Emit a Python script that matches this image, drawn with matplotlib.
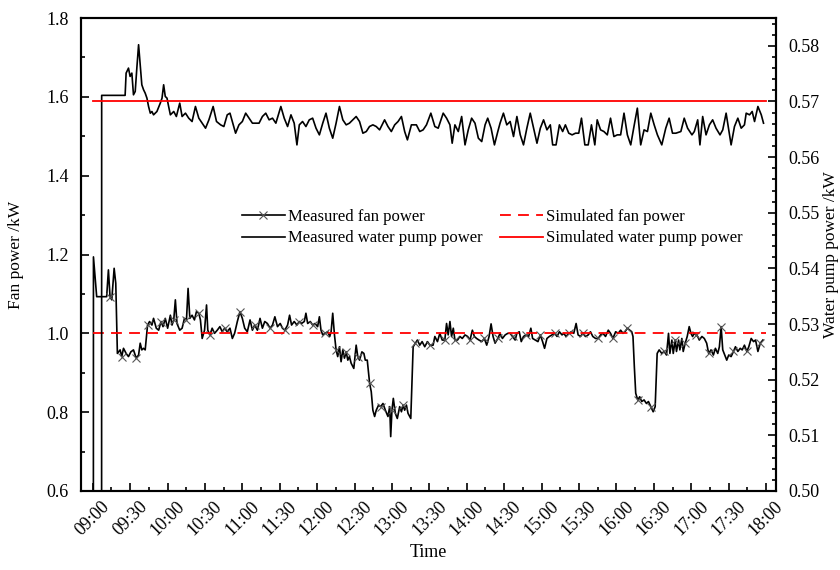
import numpy as np
import matplotlib
matplotlib.use("Agg")
import matplotlib.pyplot as plt
from matplotlib.ticker import MultipleLocator

plt.rcParams["font.family"] = ["Liberation Serif", "DejaVu Serif"]
plt.rcParams["font.size"] = 12

# Axe des temps : minutes depuis 09:00
time_labels = ["09:00", "09:30", "10:00", "10:30", "11:00", "11:30", "12:00",
               "12:30", "13:00", "13:30", "14:00", "14:30", "15:00", "15:30",
               "16:00", "16:30", "17:00", "17:30", "18:00"]

# Puissance mesurée du ventilateur (kW)
fan_t = [
    0.5, 0.6, 3.2, 8.6, 11.2, 12.6, 13.9, 15.3, 17.2, 18.5,
    19.8, 22.0, 23.3, 24.7, 26.8, 28.7, 30.6, 32.7, 34.9, 36.8,
    38.1, 39.4, 40.8, 42.1, 44.0, 45.6, 47.5, 48.8, 51.0, 52.9,
    54.8, 56.4, 58.2, 60.1, 62.3, 63.6, 65.0, 66.3, 67.6, 69.8,
    71.7, 73.6, 75.2, 76.5, 77.9, 79.7, 81.6, 83.2, 85.1, 86.4,
    87.8, 89.7, 91.3, 92.3, 94.0, 95.8, 97.7, 99.9, 102.0, 103.9,
    105.8, 107.9, 110.1, 112.0, 113.8, 116.0, 118.1, 120.0, 121.9, 124.0,
    126.2, 128.1, 129.9, 132.1, 134.2, 136.1, 138.0, 140.1, 142.3, 144.2,
    146.1, 148.2, 150.4, 152.2, 154.1, 156.3, 157.9, 159.5, 161.6, 163.8,
    165.7, 167.5, 169.7, 171.0, 172.4, 174.5, 176.4, 178.3, 180.4, 181.8,
    183.1, 184.5, 186.3, 188.5, 190.1, 191.2, 192.5, 193.9, 195.2, 196.5,
    197.9, 199.2, 200.6, 201.9, 203.3, 204.6, 205.9, 207.3, 209.4, 211.3,
    212.6, 214.0, 215.9, 217.5, 218.6, 220.2, 222.1, 223.4, 224.7, 226.1,
    227.4, 229.3, 230.9, 232.8, 234.7, 236.8, 238.2, 239.0, 240.0, 241.1,
    242.7, 244.3, 246.2, 247.6, 248.9, 250.2, 251.6, 252.9, 255.1, 257.0,
    258.8, 260.4, 262.3, 264.2, 266.3, 268.5, 270.4,
    273.0, 274.4, 276.5, 278.4, 280.3, 282.4, 283.8, 285.1, 286.5, 287.8,
    289.2, 290.5, 292.6, 294.5, 296.4, 298.6, 300.7, 302.6, 304.5, 306.1,
    307.9, 309.8, 312.0, 314.1, 316.0, 317.9, 319.5, 321.1, 322.7, 324.9,
    326.7, 328.6, 330.8, 332.9, 334.8, 336.7, 338.8, 340.2, 342.1, 343.7,
    345.5, 347.4, 349.6, 351.4, 352.8, 354.9, 357.1, 359.0, 360.8, 362.4,
    364.3, 366.2, 368.4, 370.5, 372.4, 374.3, 376.4, 377.8, 379.6, 381.8,
    383.9, 385.8, 387.7, 389.3, 391.2, 393.1, 395.2, 397.4, 399.2, 401.1,
    403.3, 405.4, 407.3, 409.2, 411.3, 413.5, 415.3, 417.2, 419.4, 421.5,
    423.4, 425.3, 426.9, 428.8, 430.7, 432.3, 433.3, 434.4, 435.5, 437.1,
    438.7, 440.3, 442.2, 444.1, 445.7, 447.6, 449.5, 451.1, 452.7, 454.3,
    456.4, 458.3, 460.2, 461.8, 462.9, 464.5, 465.6, 467.2, 468.2, 469.9,
    470.9, 472.5, 473.6, 475.2, 476.8, 478.4, 479.8, 481.1, 482.5, 483.8,
    485.2, 486.5, 488.6, 490.5, 492.4, 494.0, 495.9, 497.8, 499.4, 501.3,
    502.6, 504.0, 505.3, 506.9, 508.5, 510.1, 512.0, 513.9, 515.5, 517.4,
    519.3, 520.9, 522.7, 524.6, 526.2, 528.1, 530.0, 531.6, 533.5, 535.4,
    537.5,
]
fan_kw = [
    0.0, 1.194, 1.093, 1.093, 1.093, 1.161, 1.093, 1.085, 1.165, 1.127,
    0.949, 0.958, 0.941, 0.962, 0.949, 0.941, 0.953, 0.958, 0.937, 0.945,
    0.975, 0.958, 0.962, 0.958, 1.021, 1.030, 1.021, 1.038, 1.013, 1.008,
    1.030, 1.017, 1.038, 1.013, 1.046, 1.021, 1.034, 1.085, 1.025, 1.008,
    1.013, 1.038, 1.034, 1.114, 1.038, 1.046, 1.034, 1.055, 1.051, 1.034,
    0.987, 1.008, 1.072, 1.008, 0.996, 1.013, 1.000, 1.008, 1.017, 1.004,
    1.013, 1.004, 1.013, 0.987, 1.000, 1.030, 1.055, 1.038, 1.013, 1.004,
    1.034, 1.008, 1.021, 1.008, 1.038, 1.013, 1.030, 1.025, 1.013, 1.021,
    1.042, 1.017, 1.025, 1.013, 1.008, 1.021, 1.046, 1.021, 1.030, 1.021,
    1.030, 1.025, 1.030, 1.051, 1.025, 1.030, 1.021, 1.025, 1.017, 1.042,
    1.008, 0.996, 1.000, 1.004, 0.992, 1.004, 1.051, 0.996, 0.958, 0.941,
    0.966, 0.928, 0.958, 0.937, 0.953, 0.932, 0.941, 0.924, 0.911, 0.970,
    0.941, 0.932, 0.953, 0.949, 0.932, 0.932, 0.873, 0.852, 0.805, 0.789,
    0.805, 0.818, 0.814, 0.822, 0.805, 0.789, 0.814, 0.738, 0.805, 0.835,
    0.797, 0.784, 0.814, 0.801, 0.818, 0.805, 0.818, 0.797, 0.784, 0.966,
    0.975, 0.983, 0.970, 0.979, 0.966, 0.979, 0.970,
    0.970, 0.992, 0.979, 1.000, 0.983, 0.983, 1.025, 0.996, 1.030, 0.992,
    1.013, 0.983, 0.983, 0.992, 0.987, 0.996, 0.992, 0.983, 1.008, 0.992,
    0.987, 0.983, 0.979, 0.987, 0.970, 0.992, 1.024, 0.992, 0.975, 0.987,
    1.000, 0.987, 0.996, 1.000, 1.000, 0.992, 0.983, 1.000, 1.004, 0.979,
    0.992, 0.996, 0.992, 1.013, 0.987, 0.983, 0.979, 0.996, 0.979, 0.962,
    0.987, 0.992, 0.996, 1.000, 0.992, 1.004, 0.996, 1.000, 0.992, 1.000,
    1.004, 1.000, 1.025, 0.996, 0.992, 1.000, 0.992, 0.996, 1.004, 0.992,
    0.987, 0.987, 0.996, 1.000, 0.992, 1.008, 1.000, 0.987, 1.004, 1.000,
    1.008, 1.000, 1.004, 1.013, 1.008, 1.004, 0.992, 0.915, 0.848, 0.831,
    0.839, 0.827, 0.831, 0.822, 0.827, 0.814, 0.801, 0.814, 0.949, 0.958,
    0.949, 0.954, 0.945, 1.000, 0.949, 0.983, 0.949, 0.983, 0.954, 0.983,
    0.958, 0.987, 0.954, 0.975, 0.992, 1.017, 1.000, 0.992, 1.000, 0.996,
    0.992, 0.983, 0.992, 0.987, 0.975, 0.949, 0.958, 0.945, 0.962, 0.949,
    0.966, 1.017, 0.958, 0.945, 0.932, 0.945, 0.941, 0.954, 0.966, 0.954,
    0.962, 0.958, 0.970, 0.954, 0.966, 0.987, 0.979, 0.983, 0.954, 0.975,
    0.983,
]

# Puissance mesurée de la pompe à eau (kW)
pump_t = [
    6.8, 7.2, 26.0, 26.8, 28.7, 30.0, 31.4, 32.7, 34.1, 35.4,
    36.8, 38.1, 39.4, 40.8, 42.1, 43.5, 44.8, 46.2, 47.5, 48.8,
    51.5, 54.2, 55.6, 56.9, 58.2, 59.6, 60.9, 62.3, 65.0, 67.1,
    69.8, 71.7, 74.4, 77.0, 79.7, 82.4, 85.1, 87.8, 90.5, 93.2,
    96.6, 99.3, 102.6, 105.2, 107.9, 110.1, 112.0, 114.6, 117.3, 120.0,
    122.7, 125.4, 128.1, 130.7, 133.4, 136.1, 138.8, 141.5, 144.2, 146.9,
    150.9, 153.6, 156.3, 159.0, 161.6, 163.8, 165.7, 168.3, 171.0, 173.7,
    176.4, 179.1, 181.8, 184.5, 187.1, 189.8, 192.5, 195.2, 197.9, 200.6,
    203.3, 205.9, 208.6, 211.3, 214.0, 216.7, 219.4, 222.0, 224.7, 227.4,
    230.1, 234.1, 236.8, 239.5, 242.2, 244.9, 247.6, 250.2, 252.4, 255.6,
    259.6, 262.3, 265.0, 267.7, 271.2, 274.4,
    277.1, 281.1, 283.8, 286.5, 288.3, 290.5, 293.2, 295.9, 298.6, 301.2,
    303.9, 306.6, 309.3, 312.0, 314.7, 316.8, 319.5, 322.2, 324.9, 326.7,
    329.4, 332.1, 334.8, 337.5, 340.2, 342.9, 345.5, 348.2, 350.9, 353.6,
    356.3, 359.0, 361.6, 364.3, 367.0, 368.9, 371.6, 374.3, 376.9, 379.1,
    381.8, 384.5, 387.2, 389.8, 392.0, 394.7, 397.4, 400.0, 402.7, 404.6,
    407.3, 410.0, 412.7, 415.3, 418.0, 420.7, 423.4, 426.1, 428.8, 431.5,
    434.1, 436.8, 439.5, 442.2, 444.9, 447.6, 450.3, 452.9, 456.4, 459.6,
    462.3, 465.0, 467.7, 471.7, 474.4, 477.1, 480.6, 482.5, 485.2, 487.0,
    489.2, 491.9, 494.6, 497.2, 499.9, 503.1, 505.3, 508.0, 510.7, 512.0,
    514.7, 517.4, 520.1, 522.7, 524.1, 526.8, 528.9, 530.8, 533.5, 536.2,
    538.0,
]
pump_kw = [
    0.0, 0.5711, 0.5711, 0.5751, 0.5760, 0.5745, 0.5751, 0.5712, 0.5718, 0.5760,
    0.5802, 0.5766, 0.5730, 0.5721, 0.5715, 0.5706, 0.5691, 0.5679, 0.5682, 0.5676,
    0.5682, 0.5697, 0.5706, 0.5730, 0.5709, 0.5706, 0.5691, 0.5676, 0.5682, 0.5673,
    0.5697, 0.5673, 0.5679, 0.5670, 0.5664, 0.5691, 0.5670, 0.5661, 0.5652, 0.5667,
    0.5691, 0.5664, 0.5658, 0.5655, 0.5676, 0.5679, 0.5664, 0.5643, 0.5658, 0.5664,
    0.5679, 0.5670, 0.5661, 0.5661, 0.5661, 0.5673, 0.5679, 0.5667, 0.5670, 0.5661,
    0.5691, 0.5670, 0.5655, 0.5676, 0.5661, 0.5622, 0.5658, 0.5664, 0.5655, 0.5667,
    0.5670, 0.5652, 0.5640, 0.5661, 0.5679, 0.5652, 0.5634, 0.5661, 0.5691, 0.5667,
    0.5658, 0.5661, 0.5667, 0.5673, 0.5664, 0.5643, 0.5646, 0.5655, 0.5658, 0.5655,
    0.5649, 0.5667, 0.5655, 0.5646, 0.5658, 0.5664, 0.5673, 0.5646, 0.5631, 0.5658,
    0.5658, 0.5646, 0.5649, 0.5658, 0.5679, 0.5655,
    0.5652, 0.5679, 0.5670, 0.5658, 0.5625, 0.5658, 0.5646, 0.5673, 0.5622, 0.5649,
    0.5670, 0.5661, 0.5634, 0.5628, 0.5658, 0.5670, 0.5652, 0.5622, 0.5646, 0.5661,
    0.5679, 0.5658, 0.5664, 0.5637, 0.5673, 0.5640, 0.5622, 0.5652, 0.5679, 0.5652,
    0.5625, 0.5652, 0.5667, 0.5649, 0.5658, 0.5622, 0.5622, 0.5658, 0.5646, 0.5658,
    0.5643, 0.5640, 0.5643, 0.5643, 0.5670, 0.5622, 0.5622, 0.5658, 0.5622, 0.5667,
    0.5649, 0.5646, 0.5640, 0.5670, 0.5637, 0.5640, 0.5640, 0.5679, 0.5640, 0.5622,
    0.5655, 0.5688, 0.5622, 0.5649, 0.5646, 0.5679, 0.5658, 0.5640, 0.5622, 0.5652,
    0.5670, 0.5643, 0.5643, 0.5646, 0.5670, 0.5652, 0.5640, 0.5646, 0.5667, 0.5622,
    0.5673, 0.5640, 0.5658, 0.5667, 0.5652, 0.5640, 0.5649, 0.5679, 0.5640, 0.5622,
    0.5655, 0.5670, 0.5652, 0.5658, 0.5679, 0.5676, 0.5682, 0.5664, 0.5691, 0.5676,
    0.5661,
]

# Valeurs simulées (constantes)
sim_t = [0.5, 540.0]
sim_fan = [1.0, 1.0]
sim_pump = [0.57, 0.57]

fig = plt.figure(figsize=(8.4, 5.7), dpi=100)
ax = fig.add_axes([0.0964, 0.1386, 0.8274, 0.8298])
ax2 = ax.twinx()

h1, = ax.plot(fan_t, fan_kw, color="black", lw=1.2, marker="x", ms=6,
              mec="#555555", mew=0.8, markevery=6, label="Measured fan power")
h2, = ax.plot(sim_t, sim_fan, color="red", lw=1.3, ls="--", dashes=(6, 4),
              label="Simulated fan power")
h3, = ax2.plot(pump_t, pump_kw, color="black", lw=1.2,
               label="Measured water pump power")
h4, = ax2.plot(sim_t, sim_pump, color="red", lw=1.3,
               label="Simulated water pump power")

ax.set_xlim(-9.4, 548)
ax.set_ylim(0.6, 1.8)
ax2.set_ylim(0.5, 0.585)

ax.set_xticks(np.arange(0, 541, 30))
ax.set_xticklabels(time_labels, rotation=45)
ax.xaxis.set_minor_locator(MultipleLocator(15))
ax.set_yticks(np.arange(0.6, 1.81, 0.2))
ax.set_yticklabels(["%.1f" % v for v in np.arange(0.6, 1.81, 0.2)])
ax.yaxis.set_minor_locator(MultipleLocator(0.1))
ax2.set_yticks(np.arange(0.50, 0.581, 0.01))
ax2.set_yticklabels(["%.2f" % v for v in np.arange(0.50, 0.581, 0.01)])
ax2.yaxis.set_minor_locator(MultipleLocator(0.002))

ax.tick_params(which="both", direction="in", top=False, right=False, width=1.2,
               labelsize=13)
ax.tick_params(axis="y", pad=9)
ax.tick_params(axis="x", pad=5)
ax.tick_params(which="major", length=6)
ax.tick_params(which="minor", length=3)
ax2.tick_params(which="both", direction="in", width=1.2, labelsize=13, pad=9)
ax2.tick_params(which="major", length=6)
ax2.tick_params(which="minor", length=3)
for a in (ax, ax2):
    for s in a.spines.values():
        s.set_linewidth(1.5)

ax.set_xlabel("Time", fontsize=13)
ax.set_ylabel("Fan power /kW", fontsize=12.5)
ax2.set_ylabel("Water pump power /kW", fontsize=12.5)
ax.xaxis.set_label_coords(0.5, -0.112)
ax.yaxis.set_label_coords(-0.0824, 0.5)
ax2.yaxis.set_label_coords(1.068, 0.5)

ax2.legend(handles=[h1, h3, h2, h4], ncol=2, frameon=False, loc="center",
           bbox_to_anchor=(0.592, 0.557), handlelength=2.6, handletextpad=0.2,
           columnspacing=1.0, labelspacing=0.35)

fig.savefig("out.png", dpi=100)
